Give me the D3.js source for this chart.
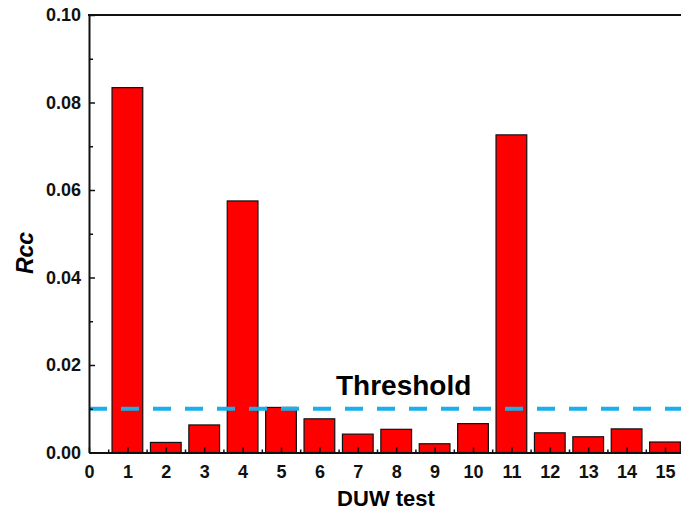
<!DOCTYPE html>
<html>
<head>
<meta charset="utf-8">
<script src="https://cdn.jsdelivr.net/npm/d3@7"></script>
<style>
  body { margin: 0; background: #fff; }
  svg { display: block; font-family: Arial, "Liberation Sans", sans-serif; }
</style>
</head>
<body>
<svg id="chart"></svg>
<script>
// DUW test numbers and Rcc values
let tests = [1, 2, 3, 4, 5, 6, 7, 8, 9, 10, 11, 12, 13, 14, 15];
let rcc = [0.0834, 0.0023, 0.0063, 0.0575, 0.0103, 0.0077, 0.0042, 0.0053, 0.0020, 0.0066, 0.0726, 0.0045, 0.0036, 0.0054, 0.0024];
let threshold = 0.01;
let xTicks = [0, 1, 2, 3, 4, 5, 6, 7, 8, 9, 10, 11, 12, 13, 14, 15];
let yTicks = [0.00, 0.02, 0.04, 0.06, 0.08, 0.10];

let W = 681, H = 513;
let margin = {top: 15, left: 89, bottom: 60};

let svg = d3.select('#chart')
            .attr("width", W)
            .attr("height", H);

// plot runs on past the right edge of the window (x domain to 16)
let x = d3.scaleLinear().domain([0, 16]).range([margin.left, margin.left + 16 * 38.4]);
let y = d3.scaleLinear().domain([0, 0.1]).range([H - margin.bottom - 0.5, margin.top]);

// bars
let bw = 0.8;
svg.selectAll("rect.bar")
    .data(tests)
    .enter()
    .append("rect")
    .attr("class", "bar")
    .attr("x", function(d) { return x(d - bw / 2); })
    .attr("y", function(d, i) { return y(rcc[i]); })
    .attr("width", function(d) { return x(bw) - x(0); })
    .attr("height", function(d, i) { return y(0) - y(rcc[i]); })
    .style("fill", "#ff0000")
    .style("stroke", "#111")
    .style("stroke-width", 1.2);

// threshold line
svg.append("line")
    .attr("x1", x(0)).attr("x2", x(16))
    .attr("y1", y(threshold)).attr("y2", y(threshold))
    .style("stroke", "#1aaeea")
    .style("stroke-width", 4)
    .style("stroke-dasharray", "18,14");

svg.append("text")
    .attr("x", 336).attr("y", 395)
    .style("font-size", "28px")
    .style("font-weight", "bold")
    .text("Threshold");

// axes
let xAxis = svg.append("g")
    .attr("transform", "translate(0," + y(0) + ")")
    .call(d3.axisBottom(x).tickValues(xTicks).tickSizeInner(-5).tickSizeOuter(0).tickPadding(13).tickFormat(d3.format("d")));
let xMinor = svg.append("g")
    .attr("transform", "translate(0," + y(0) + ")")
    .call(d3.axisBottom(x).tickValues(d3.range(0.5, 16, 1)).tickSize(-3).tickFormat(""));

let yAxis = svg.append("g")
    .attr("transform", "translate(" + x(0) + ",0)")
    .call(d3.axisLeft(y).tickValues(yTicks).tickSizeInner(-6).tickSizeOuter(0).tickPadding(8).tickFormat(d3.format(".2f")));
let yMinor = svg.append("g")
    .attr("transform", "translate(" + x(0) + ",0)")
    .call(d3.axisLeft(y).tickValues(d3.range(0.01, 0.1, 0.02)).tickSize(-4).tickFormat(""));

[xAxis, xMinor, yAxis, yMinor].forEach(function(g) {
    g.selectAll("path").style("stroke", "#111").style("stroke-width", 2);
    g.selectAll("line").style("stroke", "#111").style("stroke-width", 1.5);
    g.selectAll("text")
        .style("font-family", "Arial, 'Liberation Sans', sans-serif")
        .style("font-size", "18px")
        .style("font-weight", "bold")
        .style("fill", "#111");
});
xMinor.select("path").remove();
yMinor.select("path").remove();

// top frame line
svg.append("line")
    .attr("x1", x(0) - 1).attr("x2", x(16))
    .attr("y1", y(0.1)).attr("y2", y(0.1))
    .style("stroke", "#111")
    .style("stroke-width", 2);

// axis titles
svg.append("text")
    .attr("x", 386).attr("y", 506)
    .attr("text-anchor", "middle")
    .style("font-size", "22px")
    .style("font-weight", "bold")
    .text("DUW test");

svg.append("text")
    .attr("transform", "translate(33,253) rotate(-90)")
    .attr("text-anchor", "middle")
    .style("font-size", "23px")
    .style("font-weight", "bold")
    .style("font-style", "italic")
    .text("Rcc");
</script>
</body>
</html>
